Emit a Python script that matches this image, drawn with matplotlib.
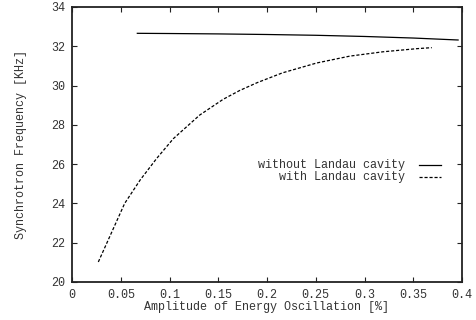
import matplotlib
matplotlib.use("Agg")
import matplotlib.pyplot as plt

# amplitude of energy oscillation [%] vs synchrotron frequency [KHz]
amp_without = [0.067, 0.1, 0.15, 0.2, 0.25, 0.3, 0.35, 0.396]
freq_without = [32.66, 32.65, 32.63, 32.60, 32.56, 32.50, 32.42, 32.32]

amp_with = [0.027, 0.054, 0.070, 0.087, 0.104, 0.131, 0.155, 0.172,
            0.19, 0.216, 0.251, 0.285, 0.319, 0.354, 0.369]
freq_with = [21.02, 24.0, 25.2, 26.3, 27.3, 28.5, 29.3, 29.75,
             30.15, 30.65, 31.15, 31.5, 31.72, 31.88, 31.93]

xticks = [0, 0.05, 0.1, 0.15, 0.2, 0.25, 0.3, 0.35, 0.4]
xticklabels = ['0', '0.05', '0.1', '0.15', '0.2', '0.25', '0.3', '0.35', '0.4']
yticks = [20, 22, 24, 26, 28, 30, 32, 34]

plt.rcParams['font.family'] = ['Liberation Mono', 'DejaVu Sans Mono']
plt.rcParams['font.size'] = 8.5

fig = plt.figure(figsize=(4.76, 3.2), dpi=100)
ax = fig.add_axes([72 / 476, 38 / 320, 390 / 476, 275 / 320])

ax.plot(amp_without, freq_without, color='black', lw=0.9)
ax.plot(amp_with, freq_with, color='black', lw=0.9, dashes=(2.5, 1.5))

ax.set_xlim(0, 0.4)
ax.set_ylim(20, 34)
ax.set_xticks(xticks)
ax.set_xticklabels(xticklabels)
ax.set_yticks(yticks)
ax.tick_params(direction='in', top=True, right=True, length=3.5, width=0.8,
               colors='#222222', labelcolor='#333333')
ax.tick_params(axis='y', pad=5)
ax.tick_params(axis='x', pad=5)
for s in ax.spines.values():
    s.set_linewidth(1.3)
    s.set_color('#222222')

ax.set_xlabel('Amplitude of Energy Oscillation [%]', labelpad=0, color='#333333')
ax.set_ylabel('Synchrotron Frequency [KHz]', labelpad=17, color='#333333')

# gnuplot style key: right aligned text, sample on the right
ax.text(0.854, 0.425, 'without Landau cavity', transform=ax.transAxes,
        ha='right', va='center', color='#333333')
ax.plot([0.89, 0.946], [0.425, 0.425], transform=ax.transAxes, color='black', lw=0.9)
ax.text(0.854, 0.382, 'with Landau cavity', transform=ax.transAxes,
        ha='right', va='center', color='#333333')
ax.plot([0.89, 0.946], [0.382, 0.382], transform=ax.transAxes, color='black',
        lw=0.9, dashes=(2.5, 1.5))

fig.savefig('out.png', dpi=100)
